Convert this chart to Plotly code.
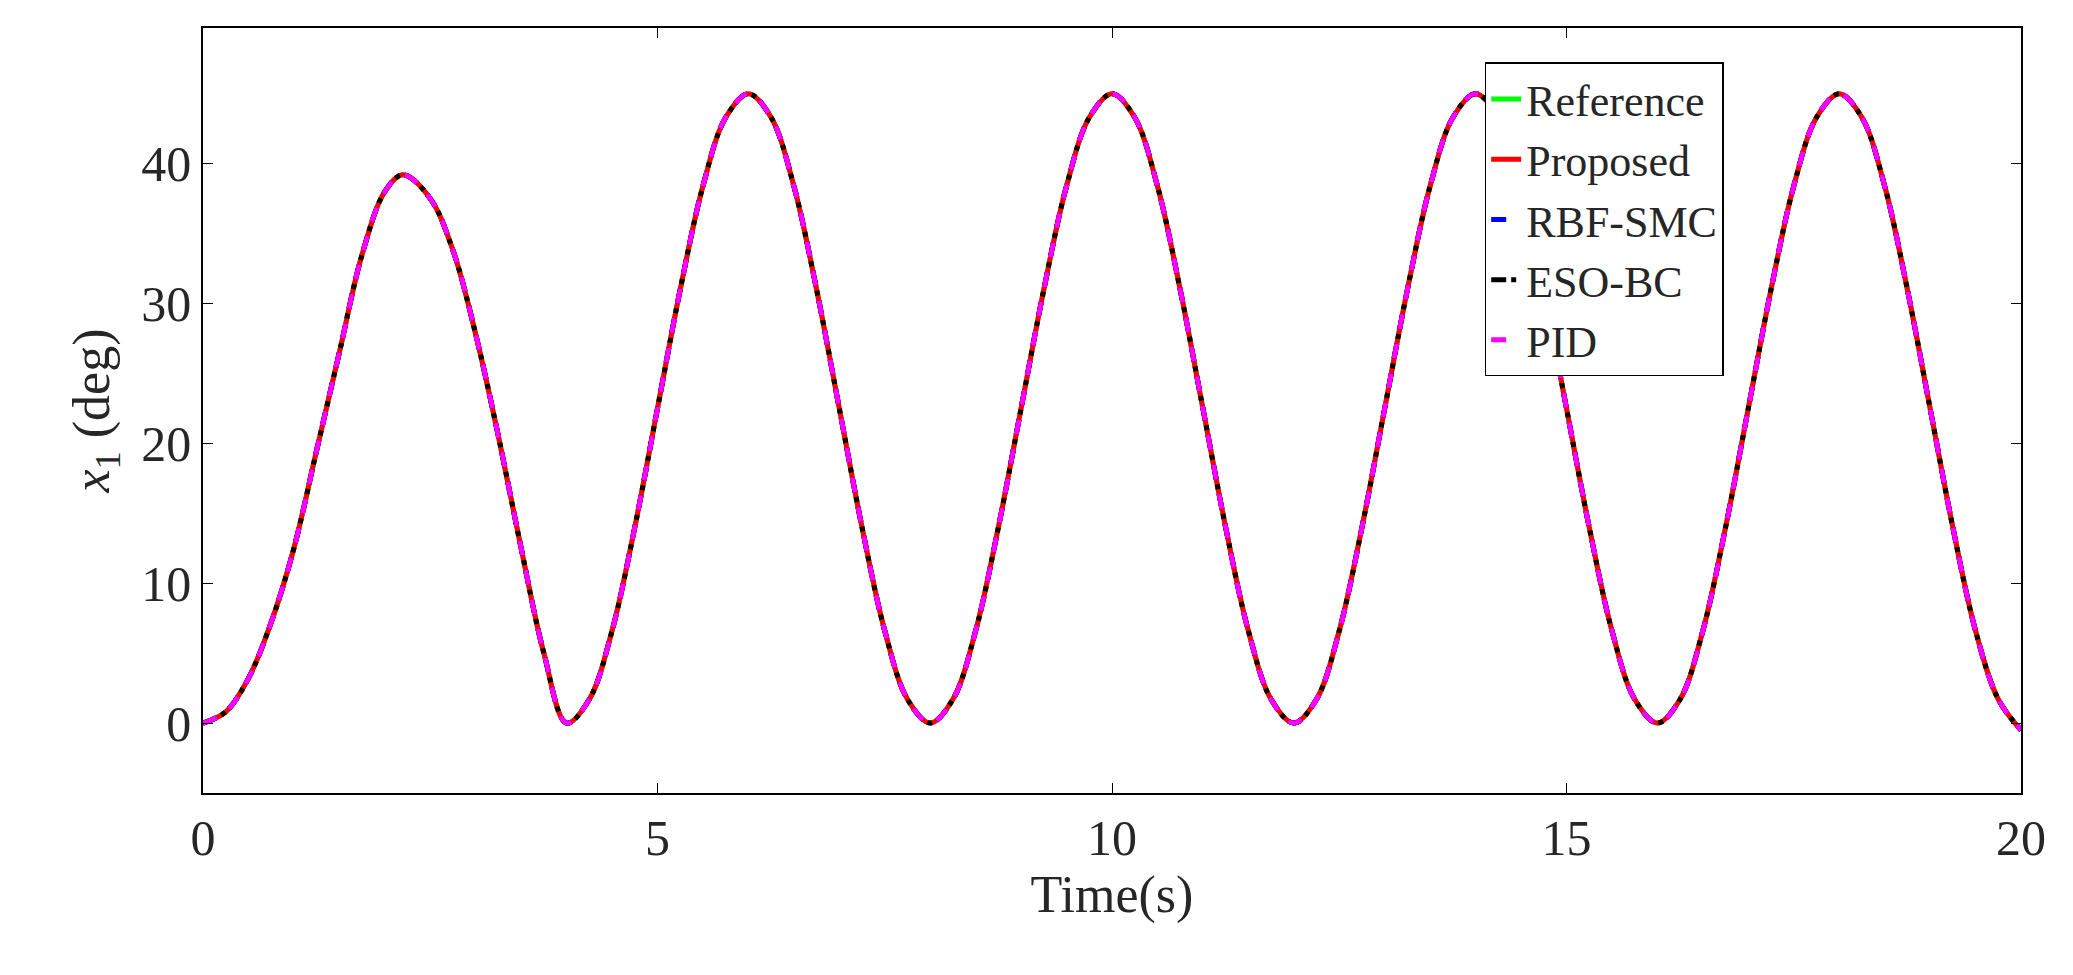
import plotly.graph_objects as go

# values
time_s = [0, 0.25, 0.5, 0.75, 1, 1.25, 1.5, 1.75, 2, 2.2, 2.5, 2.75, 3, 3.25, 3.5, 3.75, 4,
          4.25, 4.5, 4.75, 5, 5.25, 5.5, 5.75, 6, 6.25, 6.5, 6.75, 7, 7.25, 7.5, 7.75, 8,
          8.25, 8.5, 8.75, 9, 9.25, 9.5, 9.75, 10, 10.25, 10.5, 10.75, 11, 11.25, 11.5, 11.75, 12,
          12.25, 12.5, 12.75, 13, 13.25, 13.5, 13.75, 14, 14.25, 14.5, 14.75, 15, 15.25, 15.5, 15.75, 16,
          16.25, 16.5, 16.75, 17, 17.25, 17.5, 17.75, 18, 18.25, 18.5, 18.75, 19, 19.25, 19.5, 19.75, 20]
x1_deg = [0, 0.8, 3.2, 7.2, 12.5, 19.5, 26.5, 33.5, 38.0, 39.2, 37.5, 33.8, 27.8, 20.5, 12.5, 5.0, 0,
          1.7, 6.6, 14.0, 22.5, 31.0, 38.4, 43.3, 45.0, 43.3, 38.4, 31.0, 22.5, 14.0, 6.6, 1.7, 0,
          1.7, 6.6, 14.0, 22.5, 31.0, 38.4, 43.3, 45.0, 43.3, 38.4, 31.0, 22.5, 14.0, 6.6, 1.7, 0,
          1.7, 6.6, 14.0, 22.5, 31.0, 38.4, 43.3, 45.0, 43.3, 38.4, 31.0, 22.5, 14.0, 6.6, 1.7, 0,
          1.7, 6.6, 14.0, 22.5, 31.0, 38.4, 43.3, 45.0, 43.3, 38.4, 31.0, 22.5, 14.0, 6.6, 1.7, -0.5]

series = [
    ("Reference", "#00ff00", "solid"),
    ("Proposed", "#ff0000", "solid"),
    ("RBF-SMC", "#0000ff", "dash"),
    ("ESO-BC", "#000000", "dashdot"),
    ("PID", "#ff00ff", "dash"),
]

fig = go.Figure()
for name, color, dash in series:
    fig.add_trace(go.Scatter(x=time_s, y=x1_deg, mode="lines", name=name,
                             line=dict(color=color, width=5, dash=dash, shape="spline")))

axis_common = dict(showline=True, linecolor="black", linewidth=1.5, mirror="allticks",
                   ticks="inside", ticklen=10, tickcolor="black", showgrid=False,
                   zeroline=False, tickfont=dict(size=50, color="#262626"))
fig.update_layout(
    width=2073, height=975,
    paper_bgcolor="white", plot_bgcolor="white",
    font=dict(family="Liberation Serif, DejaVu Serif, serif", color="#262626"),
    margin=dict(l=195, r=60, t=20, b=190),
    xaxis=dict(range=[0, 20], tickvals=[0, 5, 10, 15, 20],
               title=dict(text="Time(s)", font=dict(size=52), standoff=10), **axis_common),
    yaxis=dict(range=[-5, 49.7], tickvals=[0, 10, 20, 30, 40],
               title=dict(text="<i>x</i><sub>1</sub> (deg)", font=dict(size=52), standoff=15),
               **axis_common),
    legend=dict(x=0.705, y=0.955, xanchor="left", yanchor="top",
                bgcolor="white", bordercolor="black", borderwidth=1.5,
                font=dict(size=44, color="#262626"), tracegroupgap=0),
)

fig.write_html("out.html")
